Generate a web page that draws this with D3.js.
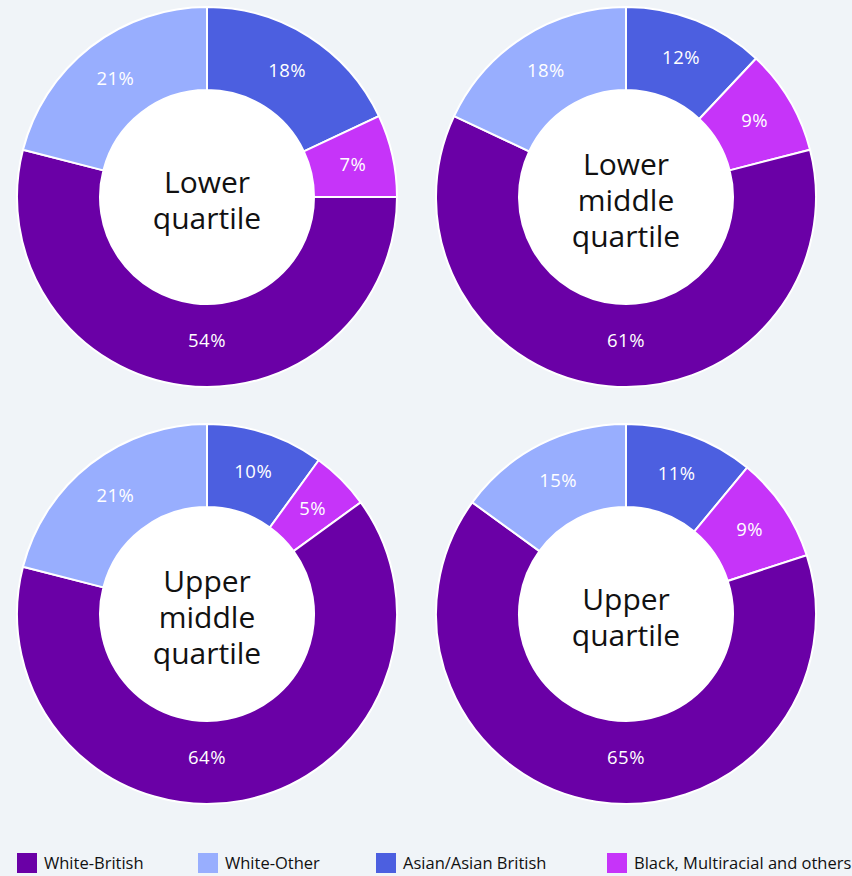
<!DOCTYPE html>
<html>
<head>
<meta charset="utf-8">
<script src="https://cdn.jsdelivr.net/npm/d3@7"></script>
<style>
  body { margin: 0; background: #f0f4f8; }
  svg { display: block; font-family: "Open Sans", "Noto Sans", sans-serif; }
</style>
</head>
<body>
<script>
// categories in drawing order (clockwise from 12 o'clock)
const categories = ["Asian/Asian British", "Black, Multiracial and others", "White-British", "White-Other"];
const legendOrder = ["White-British", "White-Other", "Asian/Asian British", "Black, Multiracial and others"];
const colors = ["#4c5fe0", "#c634f9", "#6a00a6", "#98aefe"];

const quartiles = [
  ["Lower", "quartile"],
  ["Lower", "middle", "quartile"],
  ["Upper", "middle", "quartile"],
  ["Upper", "quartile"]
];
const asianValues = [18, 12, 10, 11];
const blackValues = [7, 9, 5, 9];
const whiteBritishValues = [54, 61, 64, 65];
const whiteOtherValues = [21, 18, 21, 15];

let svg = null;
const width = 852, height = 876;
const outerR = 190, innerR = 107;
const centers = [[207, 197], [626, 197], [207, 614], [626, 614]];

const color = d3.scaleOrdinal().domain(categories).range(colors);

appendSvg("body");
appendDonuts();
appendLegend();

function appendSvg(domElement) {
  svg = d3.select(domElement).append("svg")
    .attr("width", width)
    .attr("height", height);
}

function labelPos(d) {
  // slices that cross the bottom get their label at 6 o'clock
  if (d.startAngle < Math.PI && d.endAngle > Math.PI) return [0, 143];
  const a = (d.startAngle + d.endAngle) / 2, r = 149.5;
  return [r * Math.sin(a), -r * Math.cos(a)];
}

function appendDonuts() {
  const pie = d3.pie().sort(null).value(d => d.value);
  const arc = d3.arc().innerRadius(innerR).outerRadius(outerR);

  quartiles.forEach((title, i) => {
    const data = [
      {key: categories[0], value: asianValues[i]},
      {key: categories[1], value: blackValues[i]},
      {key: categories[2], value: whiteBritishValues[i]},
      {key: categories[3], value: whiteOtherValues[i]}
    ];
    const g = svg.append("g")
      .attr("transform", `translate(${centers[i][0]}, ${centers[i][1]})`);

    const arcs = pie(data);
    g.selectAll("path.slice")
      .data(arcs)
      .enter().append("path")
      .attr("class", "slice")
      .attr("d", arc)
      .attr("fill", d => color(d.data.key))
      .attr("stroke", "#fff")
      .attr("stroke-width", 2);

    g.append("circle").attr("r", innerR).attr("fill", "#fff");

    g.selectAll("text.pct")
      .data(arcs)
      .enter().append("text")
      .attr("class", "pct")
      .attr("transform", d => `translate(${labelPos(d)})`)
      .attr("text-anchor", "middle")
      .attr("y", 6.5)
      .attr("fill", "#fff")
      .attr("font-size", 18.5)
      .attr("letter-spacing", 0.5)
      .text(d => d.data.value + "%");

    const lh = 36;
    const t = g.append("text")
      .attr("text-anchor", "middle")
      .attr("font-size", 30)
      .attr("fill", "#111");
    title.forEach((line, j) => {
      t.append("tspan")
        .attr("x", 0)
        .attr("y", (j - (title.length - 1) / 2) * lh + 13.5)
        .text(line);
    });
  });
}

function appendLegend() {
  const xs = [17, 198, 376, 607];
  const lg = svg.append("g").attr("transform", "translate(0, 853)");
  const items = lg.selectAll("g")
    .data(legendOrder)
    .enter().append("g")
    .attr("transform", (d, i) => `translate(${xs[i]}, 0)`);
  items.append("rect")
    .attr("width", 20).attr("height", 20)
    .attr("fill", d => color(d));
  items.append("text")
    .attr("x", 27).attr("y", 10)
    .attr("dy", "0.35em")
    .attr("font-size", 16.5)
    .attr("fill", "#111")
    .text(d => d);
}
</script>
</body>
</html>
